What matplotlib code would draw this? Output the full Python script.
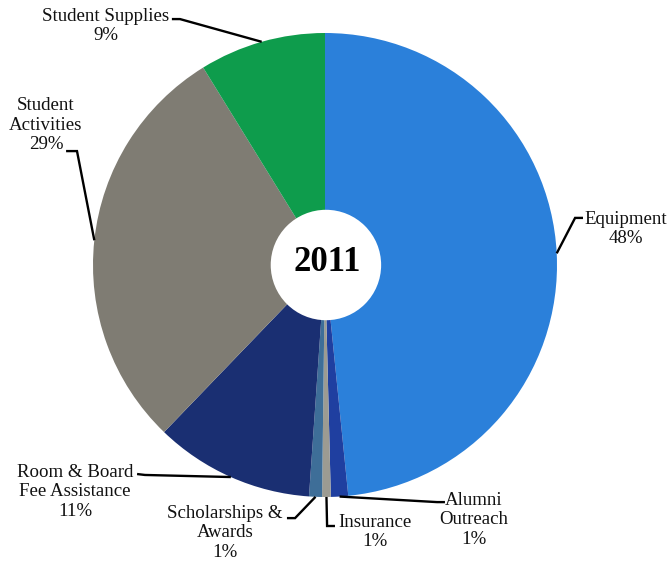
import numpy as np
import matplotlib
matplotlib.use('Agg')
import matplotlib.pyplot as plt
from matplotlib.patches import Circle

plt.rcParams['font.family'] = ['Liberation Serif', 'DejaVu Serif']

# data
categories = ['Equipment', 'Alumni\nOutreach', 'Insurance', 'Scholarships &\nAwards',
              'Room & Board\nFee Assistance', 'Student\nActivities', 'Student Supplies']
shares = [48.4, 1.2, 0.6, 0.9, 11.1, 29.0, 8.8]
colors = ['#2B80DA', '#1F3FA0', '#9C9B92', '#3E6E98', '#1A2F72', '#7F7C73', '#0E9C4C']
year_label = '2011'

# layout for labels (data coords, pie radius = 1)
# (text x, text y, elbow x, elbow y, stub x, stub y)
label_layout = [
    (1.297, 0.155, 1.078, 0.203, 1.112, 0.203),
    (0.642, -1.099, 0.483, -1.022, 0.517, -1.022),
    (0.216, -1.151, 0.009, -1.125, 0.043, -1.125),
    (-0.431, -1.155, -0.129, -1.091, -0.164, -1.091),
    (-1.078, -0.978, -0.776, -0.905, -0.810, -0.901),
    (-1.203, 0.603, -1.069, 0.491, -1.116, 0.491),
    (-0.944, 1.030, -0.625, 1.060, -0.660, 1.060),
]

fig = plt.figure(figsize=(6.7, 5.65), dpi=100)
ax = fig.add_axes([0, 0, 1, 1])

wedges, _ = ax.pie(shares, colors=colors, startangle=90, counterclock=False,
                   radius=1.0, wedgeprops=dict(linewidth=0))

for w, name, val, (tx, ty, ex, ey, sx, sy) in zip(wedges, categories, shares, label_layout):
    mid = np.deg2rad((w.theta1 + w.theta2) / 2)
    axp, ayp = np.cos(mid), np.sin(mid)
    ax.plot([axp, ex, sx], [ayp, ey, sy], color='black', lw=1.7,
            solid_capstyle='butt', solid_joinstyle='miter', zorder=3)
    ax.text(tx, ty, f'{name}\n{round(val)}%', ha='center', va='center',
            fontsize=13.6, linespacing=1.22, color='#111111')

ax.add_patch(Circle((0.004, 0.0), 0.238, facecolor='white', edgecolor='none', zorder=4))
ax.text(0.008, 0.01, year_label, ha='center', va='center', fontsize=25,
        fontweight='bold', zorder=5)

ax.set_xlim(-325 / 232, 345 / 232)
ax.set_ylim(-300 / 232, 265 / 232)
ax.set_aspect('equal')
ax.axis('off')

fig.savefig('out.png', dpi=100, facecolor='white')
